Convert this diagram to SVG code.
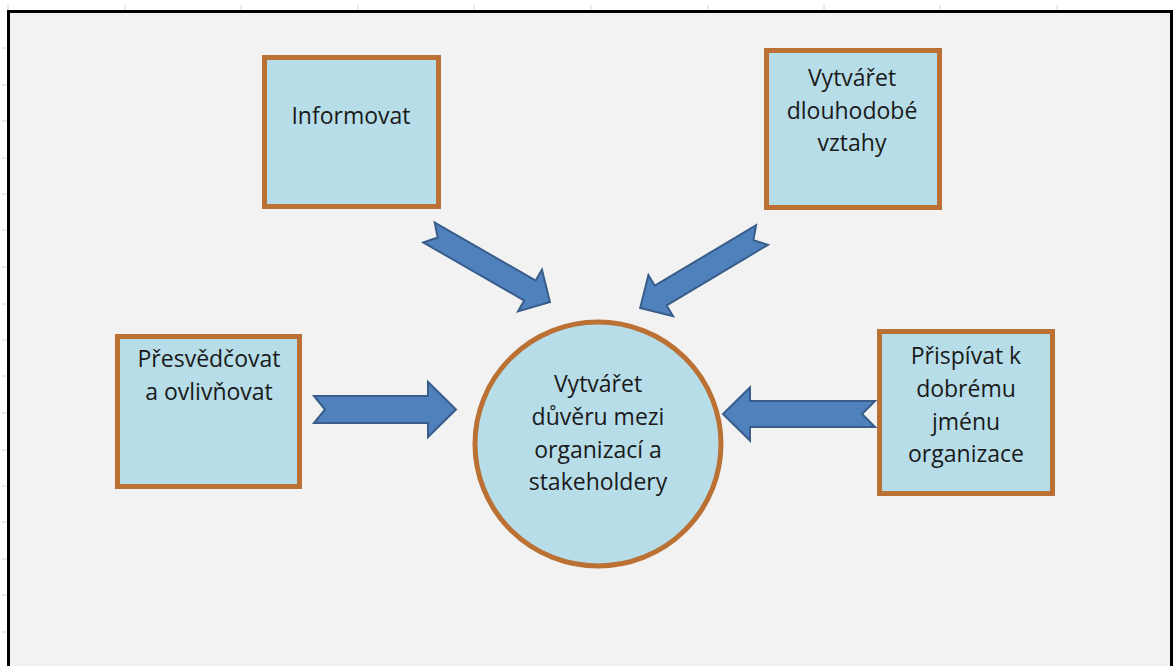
<svg xmlns="http://www.w3.org/2000/svg" width="1173" height="666" viewBox="0 0 1173 666">
<style>
.tick{stroke:#d4d4d4;stroke-width:1}
.box{fill:#b7dde8;stroke:#bb7134;stroke-width:5}
.arr{fill:#4f81bd;stroke:#385d8a;stroke-width:2;stroke-linejoin:miter}
.t{font-family:"Open Sans","Noto Sans","Liberation Sans",sans-serif;font-size:23px;fill:#1a1a1a;text-anchor:middle}
</style>
<rect x="0" y="0" width="1173" height="666" fill="#ffffff"/>
<g id="ticks">
<line class="tick" x1="8" y1="5" x2="8" y2="10"/>
<line class="tick" x1="125" y1="5" x2="125" y2="10"/>
<line class="tick" x1="241" y1="5" x2="241" y2="10"/>
<line class="tick" x1="358" y1="5" x2="358" y2="10"/>
<line class="tick" x1="474" y1="5" x2="474" y2="10"/>
<line class="tick" x1="591" y1="5" x2="591" y2="10"/>
<line class="tick" x1="708" y1="5" x2="708" y2="10"/>
<line class="tick" x1="824" y1="5" x2="824" y2="10"/>
<line class="tick" x1="940" y1="5" x2="940" y2="10"/>
<line class="tick" x1="1057" y1="5" x2="1057" y2="10"/>
<line class="tick" x1="2" y1="48" x2="7" y2="48"/>
<line class="tick" x1="2" y1="85" x2="7" y2="85"/>
<line class="tick" x1="2" y1="121" x2="7" y2="121"/>
<line class="tick" x1="2" y1="158" x2="7" y2="158"/>
<line class="tick" x1="2" y1="194" x2="7" y2="194"/>
<line class="tick" x1="2" y1="230" x2="7" y2="230"/>
<line class="tick" x1="2" y1="267" x2="7" y2="267"/>
<line class="tick" x1="2" y1="304" x2="7" y2="304"/>
<line class="tick" x1="2" y1="340" x2="7" y2="340"/>
<line class="tick" x1="2" y1="376" x2="7" y2="376"/>
<line class="tick" x1="2" y1="413" x2="7" y2="413"/>
<line class="tick" x1="2" y1="450" x2="7" y2="450"/>
<line class="tick" x1="2" y1="486" x2="7" y2="486"/>
<line class="tick" x1="2" y1="522" x2="7" y2="522"/>
<line class="tick" x1="2" y1="559" x2="7" y2="559"/>
<line class="tick" x1="2" y1="595" x2="7" y2="595"/>
<line class="tick" x1="2" y1="632" x2="7" y2="632"/>
</g>
<rect id="frame" x="8.5" y="11.5" width="1163" height="700" fill="#f2f2f2" stroke="#000000" stroke-width="3"/>
<g id="connectors">
<path class="arr" transform="translate(429,232.5) rotate(29.9)" d="M0,-11.5 L116.5,-11.5 L116.5,-24 L139.5,0 L116.5,24 L116.5,11.5 L0,11.5 L10,0 Z"/>
<path class="arr" transform="translate(762,235) rotate(149.1)" d="M0,-11.5 L118,-11.5 L118,-24 L142,0 L118,24 L118,11.5 L0,11.5 L10,0 Z"/>
<path class="arr" transform="translate(314,409.5)" d="M0,-13.5 L114,-13.5 L114,-27.5 L142,0 L114,27.5 L114,13.5 L0,13.5 L11,0 Z"/>
<path class="arr" transform="translate(875,414) rotate(180)" d="M0,-13 L125,-13 L125,-26.5 L152,0 L125,26.5 L125,13 L0,13 L13,0 Z"/>
</g>
<g id="center">
<ellipse class="box" cx="598" cy="444" rx="123" ry="122" stroke-width="4"/>
<text class="t" x="598" y="392">Vytvářet</text>
<text class="t" x="598" y="425">důvěru mezi</text>
<text class="t" x="598" y="458">organizací a</text>
<text class="t" x="598" y="490">stakeholdery</text>
</g>
<g id="informovat">
<rect class="box" x="264.5" y="57.5" width="174" height="149"/>
<text class="t" x="351" y="124">Informovat</text>
</g>
<g id="vztahy">
<rect class="box" x="766.5" y="50.5" width="173" height="157"/>
<text class="t" x="852" y="86">Vytvářet</text>
<text class="t" x="852" y="119">dlouhodobé</text>
<text class="t" x="852" y="151">vztahy</text>
</g>
<g id="presvedcovat">
<rect class="box" x="117.5" y="336.5" width="182" height="150"/>
<text class="t" x="209" y="367">Přesvědčovat</text>
<text class="t" x="209" y="400">a ovlivňovat</text>
</g>
<g id="prispivat">
<rect class="box" x="879.5" y="331.5" width="173" height="162"/>
<text class="t" x="966" y="364">Přispívat k</text>
<text class="t" x="966" y="397">dobrému</text>
<text class="t" x="966" y="430">jménu</text>
<text class="t" x="966" y="462">organizace</text>
</g>
</svg>
